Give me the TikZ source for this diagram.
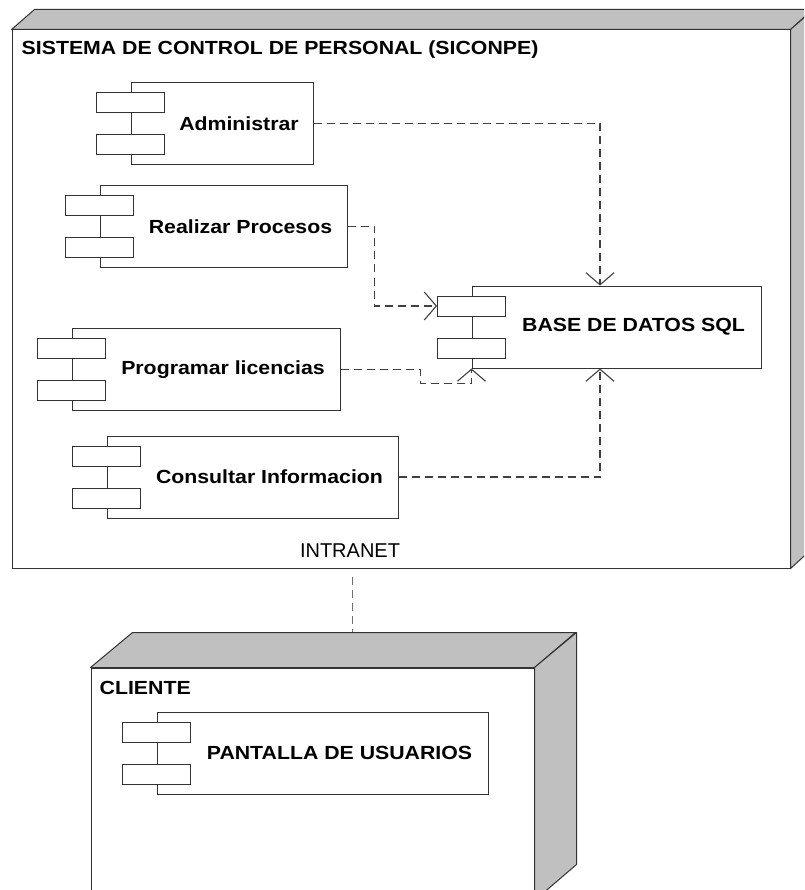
\documentclass[tikz,border=0pt]{standalone}
\usepackage{fontspec}
\setmainfont{Liberation Sans}
\newfontfamily\umlfont[FakeStretch=1.12]{Liberation Sans}
\usetikzlibrary{arrows.meta}
\definecolor{UMLgray}{HTML}{C0C0C0}
\definecolor{UMLline}{HTML}{333333}
\definecolor{UMLdash}{HTML}{404040}
\definecolor{UMLlink}{HTML}{707070}

\begin{document}
\begin{tikzpicture}[x=1pt,y=-1pt,
  nodebox/.style={draw=UMLline,fill=white,line width=1pt,inner sep=0pt},
  face/.style={draw=UMLline,fill=UMLgray,line width=1pt,line join=round},
  compbox/.style={draw=UMLline,fill=white,line width=1pt,inner sep=0pt,minimum height=82pt},
  portbox/.style={draw=UMLline,fill=white,line width=1pt,inner sep=0pt,
                  minimum width=68pt,minimum height=20pt},
  lbl/.style={font=\umlfont\fontsize{19}{19}\selectfont\bfseries,inner sep=0pt},
  dep/.style={draw=UMLdash,line width=1.2pt,dash pattern=on 8pt off 5pt,
              -{Straight Barb[length=12pt,width=28pt,line width=1.1pt]}},
  netlink/.style={draw=UMLlink,line width=0.8pt,dash pattern=on 8pt off 5pt}]
  \clip (0,0) rectangle (804,890);

  % Server node
  \node[nodebox,minimum width=778pt,minimum height=538pt] (sic) at (401,299) {};
  \filldraw[face] (sic.north west) -- ++(23,-20) -- ++(778,0) -- (sic.north east) -- cycle;
  \filldraw[face] (sic.north east) -- ++(23,-20) -- ++(0,538) -- (sic.south east) -- cycle;
  \node[lbl,anchor=west] (sictitle) at ([xshift=10pt,yshift=-20pt]sic.north west)
    {SISTEMA DE CONTROL DE PERSONAL (SICONPE)};

  % Administrar
  \node[compbox,minimum width=182pt] (adm) at (222,123.5) {};
  \node[portbox,anchor=north] (admp1) at ([yshift=-10pt]adm.north west) {};
  \node[portbox,anchor=south] (admp2) at ([yshift=10pt]adm.south west) {};
  \node[lbl] (admlbl) at ([xshift=17pt]adm.center) {Administrar};

  % Realizar Procesos
  \node[compbox,minimum width=247pt] (rp) at (223.5,226.5) {};
  \node[portbox,anchor=north] (rpp1) at ([yshift=-10pt]rp.north west) {};
  \node[portbox,anchor=south] (rpp2) at ([yshift=10pt]rp.south west) {};
  \node[lbl] (rplbl) at ([xshift=17pt]rp.center) {Realizar Procesos};

  % Programar licencias
  \node[compbox,minimum width=268pt] (pl) at (206,369.5) {};
  \node[portbox,anchor=north] (plp1) at ([yshift=-10pt]pl.north west) {};
  \node[portbox,anchor=south] (plp2) at ([yshift=10pt]pl.south west) {};
  \node[lbl] (pllbl) at ([xshift=17pt]pl.center) {Programar licencias};

  % Consultar Informacion
  \node[compbox,minimum width=291pt] (ci) at (252.5,477) {};
  \node[portbox,anchor=north] (cip1) at ([yshift=-10pt]ci.north west) {};
  \node[portbox,anchor=south] (cip2) at ([yshift=10pt]ci.south west) {};
  \node[lbl] (cilbl) at ([xshift=17pt]ci.center) {Consultar Informacion};

  % Base de datos
  \node[compbox,minimum width=289pt] (db) at (616.5,327) {};
  \node[portbox,anchor=north] (dbp1) at ([yshift=-10pt]db.north west) {};
  \node[portbox,anchor=south] (dbp2) at ([yshift=10pt]db.south west) {};
  \node[lbl] (dblbl) at ([xshift=17pt]db.center) {BASE DE DATOS SQL};

  % Dependencies
  \draw[dep] (adm.east) -| ([xshift=-16.5pt]db.north);
  \draw[dep] (rp.east) -- ++(27,0) |- (dbp1.west);
  \draw[dep] (pl.east) -- ++(80,0) -- ++(0,14) -| (db.south west);
  \draw[dep] (ci.east) -| ([xshift=-16.5pt]db.south);

  % Intranet link
  \node[font=\fontsize{20}{20}\selectfont,inner sep=0pt] (net) at (350,551) {INTRANET};
  \coordinate (netA) at (352,577);
  \coordinate (netB) at (352,633);
  \draw[netlink] (netA) -- (netB);

  % Client node
  \node[nodebox,minimum width=443pt,minimum height=232pt] (cli) at (312.5,784) {};
  \filldraw[face] (cli.north west) -- ++(42,-35) -- ++(443,0) -- (cli.north east) -- cycle;
  \filldraw[face] (cli.north east) -- ++(42,-35) -- ++(0,232) -- (cli.south east) -- cycle;
  \node[lbl,anchor=west] (clititle) at ([xshift=9pt,yshift=-20pt]cli.north west) {CLIENTE};

  % Pantalla de usuarios
  \node[compbox,minimum width=331pt] (pu) at (322.5,753) {};
  \node[portbox,anchor=north] (pup1) at ([yshift=-10pt]pu.north west) {};
  \node[portbox,anchor=south] (pup2) at ([yshift=10pt]pu.south west) {};
  \node[lbl] (pulbl) at ([xshift=17pt]pu.center) {PANTALLA DE USUARIOS};
\end{tikzpicture}
\end{document}
